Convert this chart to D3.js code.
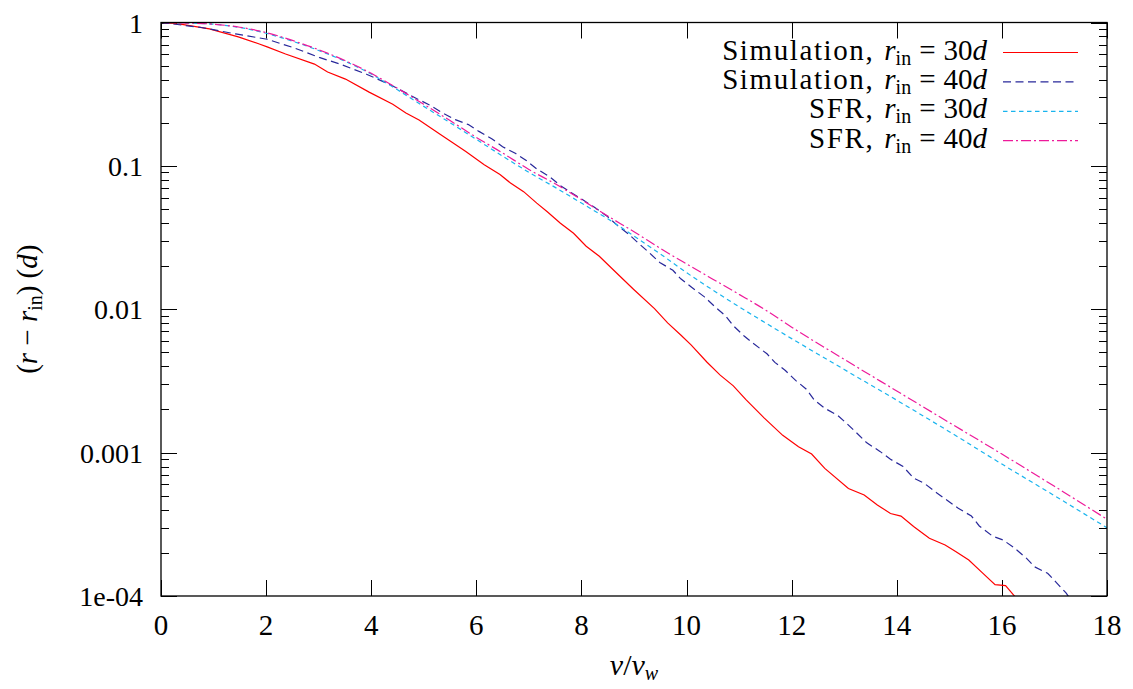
<!DOCTYPE html>
<html>
<head>
<meta charset="utf-8">
<script src="https://cdn.jsdelivr.net/npm/d3@7"></script>
<style>
  body { margin: 0; background: #fff; }
  svg text { font-family: "Liberation Serif", "Tinos", "Times New Roman", "DejaVu Serif", "Noto Serif", serif; }
</style>
</head>
<body>
<div id="chart"></div>
<script>
// Simulation, r_in = 30d
const simX30 = [0, 0.37, 0.92, 1.47, 1.87, 2.02, 2.37, 2.92, 3.17, 3.51, 3.96, 4.41, 4.66, 4.91, 5.31, 5.8, 6.15, 6.45, 6.65, 6.9, 7.15, 7.35, 7.6, 7.85, 8.09, 8.34, 8.59, 8.99, 9.39, 9.64, 9.89, 10.09, 10.39, 10.64, 10.89, 11.13, 11.48, 11.83, 12.13, 12.38, 12.63, 13.08, 13.38, 13.63, 13.88, 14.08, 14.32, 14.62, 14.92, 15.12, 15.37, 15.62, 15.87, 16.07, 16.22, 16.42];
const simY30 = [1, 0.973, 0.902, 0.794, 0.708, 0.676, 0.603, 0.513, 0.452, 0.403, 0.327, 0.269, 0.234, 0.209, 0.166, 0.126, 0.102, 0.0871, 0.0759, 0.0661, 0.055, 0.0479, 0.0398, 0.0339, 0.0275, 0.0234, 0.0191, 0.0138, 0.0101, 0.00804, 0.00661, 0.00562, 0.00427, 0.00347, 0.00292, 0.00234, 0.00174, 0.00132, 0.0011, 0.000977, 0.000776, 0.000562, 0.000507, 0.000432, 0.000376, 0.000361, 0.000305, 0.000253, 0.000227, 0.000204, 0.000178, 0.000146, 0.00012, 0.000118, 0.000102, 0.0000832];

// Simulation, r_in = 40d
const simX40 = [0, 0.77, 1.42, 2.02, 2.52, 3.01, 3.41, 3.91, 4.41, 4.86, 5.11, 5.36, 5.6, 5.85, 6.05, 6.3, 6.5, 6.75, 6.95, 7.15, 7.4, 7.6, 7.8, 8.04, 8.24, 8.49, 8.69, 8.89, 9.09, 9.29, 9.49, 9.74, 9.89, 10.09, 10.34, 10.54, 10.74, 10.89, 11.09, 11.28, 11.53, 11.68, 11.88, 12.08, 12.28, 12.43, 12.63, 12.88, 13.03, 13.23, 13.43, 13.68, 13.88, 14.12, 14.32, 14.52, 14.77, 14.97, 15.17, 15.42, 15.57, 15.82, 16.02, 16.22, 16.47, 16.62, 16.87, 17.02, 17.22, 17.32];
const simY40 = [1, 0.923, 0.832, 0.764, 0.668, 0.571, 0.512, 0.436, 0.361, 0.295, 0.266, 0.234, 0.21, 0.194, 0.174, 0.154, 0.136, 0.122, 0.109, 0.0953, 0.0838, 0.0728, 0.0653, 0.0575, 0.0516, 0.0445, 0.0383, 0.0336, 0.0288, 0.0248, 0.0212, 0.0187, 0.0163, 0.0143, 0.0122, 0.0104, 0.00902, 0.00767, 0.00653, 0.00574, 0.00489, 0.00426, 0.00374, 0.00318, 0.00277, 0.00233, 0.00204, 0.00181, 0.00162, 0.00138, 0.00117, 0.00102, 0.000899, 0.0008, 0.000664, 0.000612, 0.000521, 0.000462, 0.000409, 0.000361, 0.000308, 0.000262, 0.000246, 0.000219, 0.000183, 0.00016, 0.000144, 0.000126, 0.000105, 0.0000933];

// SFR curves
const sfrX = [0, 0.5, 1, 1.5, 2, 2.5, 3, 3.5, 4, 4.5, 5, 5.5, 6, 6.5, 7, 7.5, 8, 8.5, 9, 9.5, 10, 10.5, 11, 11.5, 12, 13, 14, 15, 16, 17, 18];
const sfrY30 = [1, 0.991, 0.973, 0.923, 0.841, 0.741, 0.638, 0.537, 0.437, 0.339, 0.26, 0.2, 0.153, 0.117, 0.0902, 0.0708, 0.055, 0.0427, 0.0324, 0.0243, 0.018, 0.0136, 0.0104, 0.00804, 0.00624, 0.0038, 0.00232, 0.0014, 0.000832, 0.000501, 0.000299];
const sfrY40 = [1, 0.991, 0.973, 0.927, 0.851, 0.75, 0.646, 0.543, 0.442, 0.347, 0.269, 0.207, 0.158, 0.123, 0.0944, 0.075, 0.0582, 0.0447, 0.0347, 0.0266, 0.0207, 0.0162, 0.0127, 0.00989, 0.0075, 0.00447, 0.00269, 0.00162, 0.000977, 0.000582, 0.000343];

const xTicks = [0, 2, 4, 6, 8, 10, 12, 14, 16, 18];
const yTicks = [1, 0.1, 0.01, 0.001, 0.0001];
const yTickLabels = ['1', '0.1', '0.01', '0.001', '1e-04'];
const legendRadii = ['30', '40', '30', '40'];
const legendNames = ['Simulation', 'Simulation', 'SFR', 'SFR'];

const W = 1133, H = 689;
const plotLeft = 161, plotRight = 1107, plotTop = 22.5, plotBottom = 596;
const serif = '"Liberation Serif", "Tinos", "Times New Roman", "DejaVu Serif", serif';

const svg = d3.select('#chart').append('svg')
    .attr('width', W)
    .attr('height', H)
    .attr('font-family', serif);

const x = d3.scaleLinear().domain([0, 18]).range([plotLeft, plotRight]);
const y = d3.scaleLog().domain([1e-4, 1]).range([plotBottom, plotTop]);

svg.append('defs').append('clipPath')
    .attr('id', 'plotclip')
    .append('rect')
    .attr('x', plotLeft).attr('y', plotTop)
    .attr('width', plotRight - plotLeft).attr('height', plotBottom - plotTop);

// ticks (gnuplot style, inward, mirrored)
const tickG = svg.append('g').attr('stroke', '#000').attr('stroke-width', 1);
xTicks.forEach(t => {
    const px = Math.round(x(t)) + 0.5;
    tickG.append('line').attr('x1', px).attr('x2', px).attr('y1', plotBottom).attr('y2', plotBottom - 16);
    tickG.append('line').attr('x1', px).attr('x2', px).attr('y1', plotTop).attr('y2', plotTop + 16);
});
const minor = [];
for (let e = -4; e < 0; e++) {
    for (let m = 2; m <= 9; m++) minor.push(m * Math.pow(10, e));
}
yTicks.forEach(t => {
    const py = Math.round(y(t)) + 0.5;
    tickG.append('line').attr('x1', plotLeft).attr('x2', plotLeft + 16).attr('y1', py).attr('y2', py);
    tickG.append('line').attr('x1', plotRight).attr('x2', plotRight - 16).attr('y1', py).attr('y2', py);
});
minor.forEach(t => {
    const py = Math.round(y(t)) + 0.5;
    tickG.append('line').attr('x1', plotLeft).attr('x2', plotLeft + 8).attr('y1', py).attr('y2', py);
    tickG.append('line').attr('x1', plotRight).attr('x2', plotRight - 8).attr('y1', py).attr('y2', py);
});

// tick labels
svg.append('g').selectAll('text')
    .data(xTicks)
    .enter().append('text')
    .attr('x', d => x(d))
    .attr('y', 635)
    .attr('text-anchor', 'middle')
    .attr('font-family', serif)
    .style('font-size', '29px')
    .text(d => d);

svg.append('g').selectAll('text')
    .data(yTicks)
    .enter().append('text')
    .attr('x', 143)
    .attr('y', d => y(d) + 10)
    .attr('text-anchor', 'end')
    .attr('font-family', serif)
    .style('font-size', '28px')
    .text((d, i) => yTickLabels[i]);

// series
const series = [
    { xs: simX30, ys: simY30, color: '#ff0000', dash: null, curve: d3.curveLinear },
    { xs: simX40, ys: simY40, color: '#28289a', dash: '8,4.5', curve: d3.curveLinear },
    { xs: sfrX, ys: sfrY30, color: '#19b4ee', dash: '4.5,3.5', curve: d3.curveMonotoneX },
    { xs: sfrX, ys: sfrY40, color: '#ee1a9a', dash: '10,3,2,3', curve: d3.curveMonotoneX }
];

const plot = svg.append('g').attr('clip-path', 'url(#plotclip)');
series.forEach(s => {
    const pts = s.xs.map((v, i) => [v, s.ys[i]]);
    const line = d3.line()
        .x(d => x(d[0]))
        .y(d => y(d[1]))
        .curve(s.curve);
    plot.append('path')
        .datum(pts)
        .attr('fill', 'none')
        .attr('stroke', s.color)
        .attr('stroke-width', 1.2)
        .attr('stroke-dasharray', s.dash)
        .attr('d', line);
});

// border
svg.append('rect')
    .attr('x', plotLeft).attr('y', plotTop)
    .attr('width', plotRight - plotLeft).attr('height', plotBottom - plotTop)
    .attr('fill', 'none')
    .attr('stroke', '#000')
    .attr('stroke-width', 1.3);

// legend
const legend = svg.append('g');
series.forEach((s, i) => {
    const base = 59.5 + i * 29.4;
    const t = legend.append('text')
        .attr('x', 987)
        .attr('y', base)
        .attr('text-anchor', 'end')
        .attr('font-family', serif)
        .style('font-size', '29px');
    t.append('tspan').style('letter-spacing', '1.6px').text(legendNames[i] + ',');
    t.append('tspan').attr('dx', 10).style('font-style', 'italic').text('r');
    t.append('tspan').attr('dy', 5).style('font-size', '20px').text('in');
    t.append('tspan').attr('dy', -5).attr('dx', 8).text('=');
    t.append('tspan').attr('dx', 8).text(legendRadii[i]);
    t.append('tspan').style('font-style', 'italic').text('d');

    legend.append('line')
        .attr('x1', 1003).attr('x2', 1078)
        .attr('y1', base - 7).attr('y2', base - 7)
        .attr('stroke', s.color)
        .attr('stroke-width', 1.2)
        .attr('stroke-dasharray', s.dash);
});

// axis titles
const xl = svg.append('text')
    .attr('x', (plotLeft + plotRight) / 2)
    .attr('y', 675)
    .attr('text-anchor', 'middle')
    .attr('font-family', serif)
    .style('font-size', '30px');
xl.append('tspan').style('font-style', 'italic').text('v');
xl.append('tspan').text('/');
xl.append('tspan').style('font-style', 'italic').text('v');
xl.append('tspan').attr('dy', 5).style('font-size', '20px').style('font-style', 'italic').text('w');

const yl = svg.append('text')
    .attr('transform', `translate(37,${(plotTop + plotBottom) / 2}) rotate(-90)`)
    .attr('text-anchor', 'middle')
    .attr('font-family', serif)
    .style('font-size', '29px');
yl.append('tspan').text('(');
yl.append('tspan').style('font-style', 'italic').text('r');
yl.append('tspan').text(' \u2212 ');
yl.append('tspan').style('font-style', 'italic').text('r');
yl.append('tspan').attr('dy', 5).style('font-size', '20px').text('in');
yl.append('tspan').attr('dy', -5).text(')');
yl.append('tspan').attr('dx', 7).text('(');
yl.append('tspan').style('font-style', 'italic').text('d');
yl.append('tspan').text(')');
</script>
</body>
</html>
